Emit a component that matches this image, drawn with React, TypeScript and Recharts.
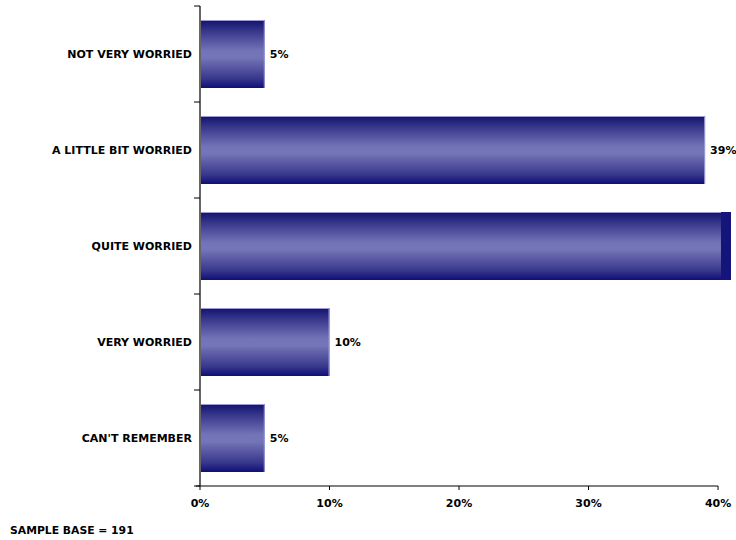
import { BarChart, Bar, XAxis, YAxis, LabelList } from "recharts";

const categories = ["NOT VERY WORRIED", "A LITTLE BIT WORRIED", "QUITE WORRIED", "VERY WORRIED", "CAN'T REMEMBER"];
const shares = [5, 39, 41, 10, 5];
const xTicks = [0, 10, 20, 30, 40];
const sampleBase = "SAMPLE BASE = 191";

const data = categories.map((name, i) => ({ name, value: shares[i] }));

const FONT = "Verdana, 'DejaVu Sans', sans-serif";
const AXIS_X = 200;
const HALF_BAND = 48;
const LAST_TICK = xTicks[xTicks.length - 1];

function BarShape(props: any) {
  const { x, y, width, height, value } = props;
  const v = Array.isArray(value) ? value[1] : value;
  const over = v > LAST_TICK;
  return (
    <g>
      <rect x={x} y={y} width={width} height={height} fill="url(#barGrad)" />
      <line x1={x} x2={x + width} y1={y + 0.5} y2={y + 0.5} stroke="#9a9ad6" strokeWidth={1} />
      {over ? (
        <rect x={x + width - 10} y={y} width={10} height={height} fill="#14147a" />
      ) : (
        <line x1={x + width - 0.5} x2={x + width - 0.5} y1={y} y2={y + height} stroke="#9a9ad6" strokeWidth={1} />
      )}
    </g>
  );
}

function CategoryTick(props: any) {
  const { y, payload, index, visibleTicksCount } = props;
  return (
    <g>
      <text x={AXIS_X - 8} y={y} dy={4} textAnchor="end" fontFamily={FONT} fontSize={11} fontWeight="bold" fill="#000">
        {payload.value}
      </text>
      <line x1={AXIS_X - 6} x2={AXIS_X} y1={y - HALF_BAND} y2={y - HALF_BAND} stroke="#000" />
      {index === visibleTicksCount - 1 && (
        <line x1={AXIS_X - 6} x2={AXIS_X} y1={y + HALF_BAND} y2={y + HALF_BAND} stroke="#000" />
      )}
    </g>
  );
}

// x axis line only runs to the last tick, the plot goes a bit further
function ValueTick(props: any) {
  const { x, y, payload, index, visibleTicksCount } = props;
  const axisY = y - 8;
  return (
    <g>
      {index === visibleTicksCount - 1 && (
        <line x1={AXIS_X - 4} x2={x} y1={axisY} y2={axisY} stroke="#000" />
      )}
      <line x1={x} x2={x} y1={axisY} y2={axisY + 4} stroke="#000" />
      <text x={x} y={y} dy={13} textAnchor="middle" fontFamily={FONT} fontSize={11} fontWeight="bold" fill="#000">
        {`${payload.value}%`}
      </text>
    </g>
  );
}

function ValueLabel(props: any) {
  const { x, y, width, height, value } = props;
  if (value > LAST_TICK) return null;
  return (
    <text x={x + width + 5} y={y + height / 2} dy={4} fontFamily={FONT} fontSize={11} fontWeight="bold" fill="#000">
      {`${value}%`}
    </text>
  );
}

export default function App() {
  return (
    <div style={{ position: "fixed", left: 0, top: 0, width: 736, height: 540, background: "#fff" }}>
      <BarChart
        width={736}
        height={540}
        data={data}
        layout="vertical"
        margin={{ top: 6, right: 5, bottom: 24, left: 0 }}
        barCategoryGap={14}
      >
        <defs>
          <linearGradient id="barGrad" x1="0" y1="0" x2="0" y2="1">
            <stop offset="0" stopColor="#12126e" />
            <stop offset="0.15" stopColor="#34348a" />
            <stop offset="0.45" stopColor="#7373b8" />
            <stop offset="0.55" stopColor="#7575b9" />
            <stop offset="0.85" stopColor="#3a3a8e" />
            <stop offset="1" stopColor="#0f0f78" />
          </linearGradient>
        </defs>
        <XAxis
          type="number"
          domain={[0, 41]}
          ticks={xTicks}
          axisLine={false}
          tickLine={false}
          tickSize={8}
          tickMargin={0}
          tick={<ValueTick />}
          interval={0}
          height={30}
        />
        <YAxis
          type="category"
          dataKey="name"
          width={200}
          axisLine={{ stroke: "#666", strokeWidth: 2 }}
          tickLine={false}
          tick={<CategoryTick />}
          interval={0}
        />
        <Bar dataKey="value" shape={<BarShape />} isAnimationActive={false}>
          <LabelList dataKey="value" content={<ValueLabel />} />
        </Bar>
      </BarChart>
      <div
        style={{
          position: "absolute",
          left: 10,
          top: 524,
          fontFamily: FONT,
          fontSize: 10.8,
          fontWeight: "bold",
          color: "#000",
        }}
      >
        {sampleBase}
      </div>
    </div>
  );
}
